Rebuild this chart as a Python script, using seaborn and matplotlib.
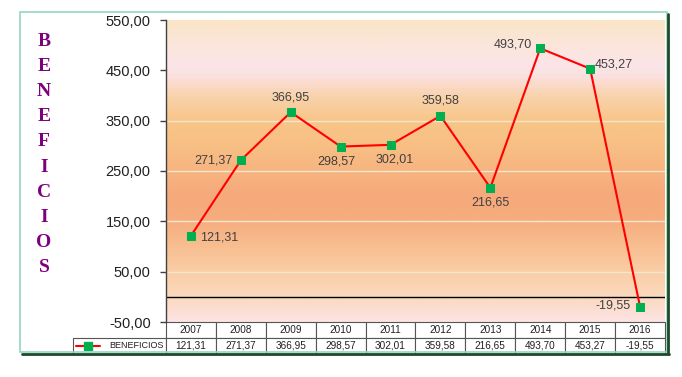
import numpy as np
import pandas as pd
import matplotlib.pyplot as plt
import seaborn as sns
from matplotlib.colors import LinearSegmentedColormap
from matplotlib.patches import Rectangle
from matplotlib.lines import Line2D

sns.set_theme(style="white")
plt.rcParams['font.family'] = ['Liberation Sans', 'DejaVu Sans']

# Datos
years = [2007, 2008, 2009, 2010, 2011, 2012, 2013, 2014, 2015, 2016]
beneficios = [121.31, 271.37, 366.95, 298.57, 302.01, 359.58, 216.65, 493.70, 453.27, -19.55]
serie_nombre = 'BENEFICIOS'
y_ticks = [-50, 50, 150, 250, 350, 450, 550]

# posicion de cada etiqueta (px) respecto al punto: dx, dy, ha, va
label_pos = [(9, -2, 'left', 'center'), (-8, 0, 'right', 'center'), (0, 9, 'center', 'bottom'),
             (-4, -9, 'center', 'top'), (4, -9, 'center', 'top'), (0, 9, 'center', 'bottom'),
             (0, -9, 'center', 'top'), (-8, 4, 'right', 'center'), (5, 4, 'left', 'center'),
             (-9, 1, 'right', 'center')]

def fmt(v):
    return f"{v:.2f}".replace('.', ',')

df = pd.DataFrame({'Año': years, serie_nombre: beneficios})

fig = plt.figure(figsize=(6.82, 3.77), dpi=100)
W, H = 682, 377
ax = fig.add_axes([166 / W, 1 - 322 / H, 499 / W, 302 / H])

# fondo degradado estilo Excel
stops = [(-50, '#FDE3E3'), (0, '#FBD9BE'), (50, '#FACDA6'), (100, '#F8BE90'), (150, '#F6AD7E'),
         (200, '#F6A97B'), (250, '#F7B480'), (300, '#F8BF84'), (350, '#F8C588'), (400, '#F9D3AC'),
         (450, '#FCE3EC'), (500, '#FBE6DC'), (550, '#FAE5C8')]
cmap = LinearSegmentedColormap.from_list('fondo', [((v + 50) / 600, c) for v, c in stops])
grad = np.linspace(0, 1, 300).reshape(-1, 1)
ax.imshow(grad, cmap=cmap, origin='lower', aspect='auto',
          extent=[2006.5, 2016.5, -50, 550], zorder=0)

for t in y_ticks[1:-1]:
    ax.axhline(t, color='#F3E8CF', lw=1, zorder=1)
ax.axhline(0, color='black', lw=1, zorder=2)

sns.lineplot(data=df, x='Año', y=serie_nombre, ax=ax, color='#FF0000', lw=1.5,
             marker='s', markersize=6, markerfacecolor='#00B050', markeredgecolor='#00B050',
             zorder=3)

for x, v, (dx, dy, ha, va) in zip(years, beneficios, label_pos):
    ax.annotate(fmt(v), (x, v), xytext=(dx, dy), textcoords='offset pixels',
                ha=ha, va=va, fontsize=9, color='#404040', zorder=4)

ax.set_xlim(2006.5, 2016.5)
ax.set_ylim(-50, 550)
ax.set_yticks(y_ticks)
ax.set_yticklabels([fmt(t) for t in y_ticks], fontsize=10.5, color='#202020')
ax.set_xticks([])
ax.set_xlabel('')
ax.set_ylabel('')
ax.tick_params(axis='y', direction='out', length=4, width=1, color='#404040', pad=7, left=True)
for s in ['top', 'right', 'bottom']:
    ax.spines[s].set_visible(False)
ax.spines['left'].set_color('#404040')
ax.spines['left'].set_linewidth(1)

# tabla de datos
cell_text = [[''] + [str(y) for y in years], [serie_nombre] + [fmt(v) for v in beneficios]]
lab_w = 93 / 499
tbl = ax.table(cellText=cell_text, cellLoc='center',
               colWidths=[lab_w] + [1 / 10] * 10,
               bbox=[-lab_w, -32 / 302, 1 + lab_w, 32 / 302])
tbl.auto_set_font_size(False)
tbl.set_fontsize(7.2)
for (r, c), cell in tbl.get_celld().items():
    cell.set_edgecolor('#555555')
    cell.set_linewidth(0.8)
    cell.set_facecolor('white')
    cell.get_text().set_color('#202020')
tbl[0, 0].visible_edges = ''
tbl[0, 0].set_facecolor('none')
tbl[1, 0]._loc = 'right'
tbl[1, 0].PAD = 0.03
tbl[1, 0].get_text().set_horizontalalignment('right')
tbl[1, 0].get_text().set_fontsize(6.5)

# simbolo de leyenda en la tabla
ax.add_line(Line2D([-0.180, -0.132], [-0.078, -0.078], transform=ax.transAxes, color='#FF0000',
                   lw=1.5, clip_on=False, zorder=5))
ax.add_line(Line2D([-0.156], [-0.078], transform=ax.transAxes, marker='s', markersize=5.5,
                   color='#00B050', clip_on=False, zorder=6))

# titulo vertical
for i, ch in enumerate(serie_nombre):
    fig.text(44 / W, 1 - (41 + i * 25.2) / H, ch, ha='center', va='center', fontsize=14,
             fontweight='bold', color='#7F007F', family=['Liberation Serif', 'DejaVu Serif'])

# marco
fig.patches.append(Rectangle((20 / W, 1 - 352 / H), 647 / W, 340 / H, transform=fig.transFigure,
                             fill=False, edgecolor='#96D5BC', lw=1.2, zorder=0))
fig.lines.append(Line2D([668 / W, 668 / W], [1 - 354 / H, 1 - 14 / H], transform=fig.transFigure,
                        color='#1E4A2C', lw=2))
fig.lines.append(Line2D([22 / W, 669 / W], [1 - 353.5 / H, 1 - 353.5 / H], transform=fig.transFigure,
                        color='#1E4A2C', lw=2))

fig.savefig('out.png', dpi=100)
